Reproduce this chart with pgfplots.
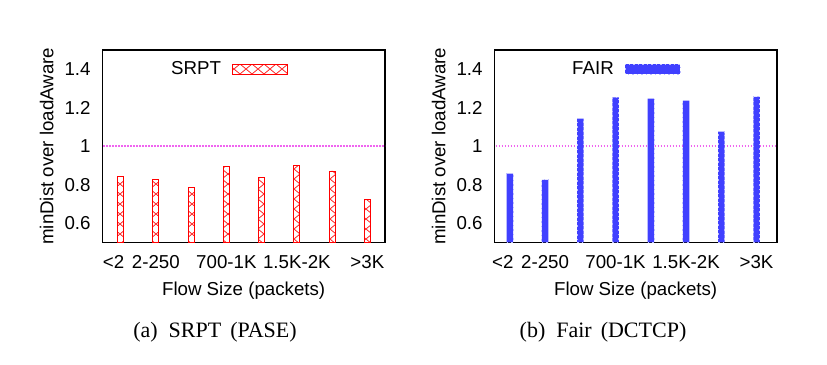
\documentclass[border=0pt]{standalone}
\usepackage{fontspec}
\setmainfont{Liberation Sans}
\newfontfamily\capfont{Liberation Serif}
\usepackage{pgfplots}
\usepackage{pgfplotstable}
\pgfplotsset{compat=1.18}
\usetikzlibrary{patterns}
\pgfdeclarepatternformonly{xhatch}{\pgfqpoint{-1pt}{-1pt}}{\pgfqpoint{13pt}{11pt}}{\pgfqpoint{12pt}{10pt}}{%
  \pgfsetlinewidth{0.8pt}%
  \pgfpathmoveto{\pgfqpoint{0pt}{0pt}}\pgfpathlineto{\pgfqpoint{12pt}{10pt}}%
  \pgfpathmoveto{\pgfqpoint{0pt}{10pt}}\pgfpathlineto{\pgfqpoint{12pt}{0pt}}%
  \pgfusepath{stroke}}
\definecolor{refline}{RGB}{240,100,240}
\definecolor{fairblue}{RGB}{64,64,255}

\pgfplotstableread{
x y
0 0.841
1 0.825
2 0.783
3 0.896
4 0.836
5 0.899
6 0.871
7 0.725
}\srpt
\pgfplotstableread{
x y
0 0.857
1 0.825
2 1.143
3 1.253
4 1.247
5 1.237
6 1.075
7 1.256
}\fair

\pgfplotsset{
  myaxis/.style={
    scale only axis, width=282.7pt, height=192.3pt,
    ymin=0.5, ymax=1.5,
    ytick={0.6,0.8,1,1.2,1.4},
    xtick={0,1,3,5,7},
    xticklabels={\hbox{<2\hspace{14pt}},2-250,700-1K,1.5K-2K,>3K},
    major tick length=0pt,
    /pgf/number format/assume math mode=true,
    font=\fontsize{18.7}{22}\selectfont,
    tick label style={font=\fontsize{18.7}{22}\selectfont},
    label style={font=\fontsize{18.7}{22}\selectfont},
    axis line style={line width=1.4pt},
    yticklabel style={anchor=east, inner sep=0pt, xshift=-11.6pt},
    xticklabel style={anchor=base, inner sep=0pt, yshift=-26.1pt},
    xlabel={Flow Size (packets)},
    xlabel style={at={(axis description cs:0.5,0)}, anchor=base, yshift=-52.7pt, inner sep=0pt},
    ylabel={minDist over loadAware},
    ylabel style={at={(axis description cs:-0.1733,0.5)}, anchor=base, inner sep=0pt},
    legend plot pos=right,
    legend style={draw=none, fill=none, inner sep=0pt, column sep=11pt,
      nodes={inner sep=0pt}, anchor=east,
      font=\fontsize{18.7}{22}\selectfont},
    legend image code/.code={\draw[#1] (0pt,-5pt) rectangle (55pt,5pt);},
  }
}

\begin{document}
\begin{tikzpicture}[x=1pt,y=1pt]
\path[use as bounding box] (0,0) rectangle (827,364);

\begin{axis}[myaxis, at={(102.3pt,121.7pt)}, anchor=south west,
  xmin=-0.52, xmax=7.5,
  legend style={at={(axis description cs:0.657,0.901)}}]
\addplot[refline, dash pattern=on 1.2pt off 1.8pt, line width=1.4pt, forget plot] coordinates {(-1,1) (8,1)};
\addplot[ybar, bar width=6pt, draw=red, line width=0.9pt, pattern=xhatch, pattern color=red!85]
  table[x=x,y=y] {\srpt};
\addlegendentry{SRPT}
\end{axis}

\begin{axis}[myaxis, at={(494.3pt,121.7pt)}, anchor=south west,
  xmin=-0.44, xmax=7.58,
  legend style={at={(axis description cs:0.660,0.901)}}]
\addplot[refline, dash pattern=on 1.2pt off 1.8pt, line width=1.4pt, forget plot] coordinates {(-1,1) (8,1)};
\addplot[ybar, bar width=6.5pt, fill=fairblue, draw=white!65!fairblue, line width=0.9pt, dash pattern=on 1.5pt off 3pt]
  table[x=x,y=y] {\fair};
\addlegendentry{FAIR}
\end{axis}

\node[anchor=base, inner sep=0pt, font=\capfont\fontsize{22}{26}\selectfont] at (215,26) {(a)\hspace{11pt}SRPT\hspace{9pt}(PASE)};
\node[anchor=base, inner sep=0pt, font=\capfont\fontsize{22}{26}\selectfont] at (603,26) {(b)\hspace{11pt}Fair\hspace{9pt}(DCTCP)};
\end{tikzpicture}
\end{document}
